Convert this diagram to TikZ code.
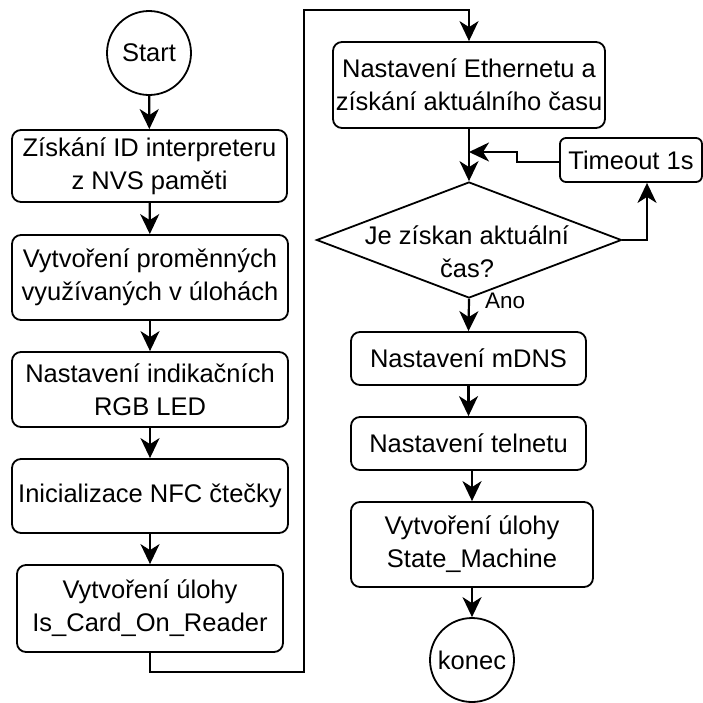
\documentclass[tikz,border=0pt]{standalone}
\usepackage{fontspec}
\setmainfont{Liberation Sans}
\usetikzlibrary{shapes.geometric,arrows.meta}
\begin{document}
\begin{tikzpicture}[x=1pt,y=-1pt,
  every node/.style={font=\fontsize{25.5}{33}\selectfont, align=center, inner sep=0pt},
  stepbox/.style={draw, line width=1.8pt, rounded corners=9pt, rectangle},
  endpoint/.style={draw, line width=1.8pt, circle, minimum size=84pt},
  decision/.style={draw, line width=1.8pt, diamond, minimum width=305pt, minimum height=116pt},
  flow/.style={line width=2.2pt, -{Stealth[length=20pt,width=19pt,inset=6pt]}},
]
\useasboundingbox (0,0) rectangle (703,702);

% left column
\node[endpoint] (start) at (149,53) {Start};
\node[stepbox, minimum width=275pt, minimum height=72pt] (b1) at (149.5,166) {Získání ID interpreteru\\z NVS paměti};
\node[stepbox, minimum width=276pt, minimum height=85pt] (b2) at (150,277.5) {Vytvoření proměnných\\využívaných v úlohách};
\node[stepbox, minimum width=276pt, minimum height=75pt] (b3) at (150,389.5) {Nastavení indikačních\\RGB LED};
\node[stepbox, minimum width=276pt, minimum height=74pt] (b4) at (150,496) {Inicializace NFC čtečky};
\node[stepbox, minimum width=266pt, minimum height=87pt] (b5) at (150,608.5) {Vytvoření úlohy\\Is\_Card\_On\_Reader};

% right column
\node[stepbox, minimum width=272pt, minimum height=86pt] (eth) at (469,85) {Nastavení Ethernetu a\\získání aktuálního času};
\node[decision] (dec) at (469,240) {};
\node (dectext) at (467,252) {Je získan aktuální\\čas?};
\node[stepbox, rounded corners=6pt, minimum width=142pt, minimum height=44pt] (tmo) at (631,160) {Timeout 1s};
\node[stepbox, minimum width=235pt, minimum height=53pt] (mdns) at (468.5,358.5) {Nastavení mDNS};
\node[stepbox, minimum width=235pt, minimum height=53pt] (tel) at (468.5,443.5) {Nastavení telnetu};
\node[stepbox, minimum width=242pt, minimum height=85pt] (sm) at (472,544.5) {Vytvoření úlohy\\State\_Machine};
\node[endpoint] (konec) at (472,660) {konec};

% connectors, left column
\draw[flow] (start) -- (b1);
\draw[flow] (b1) -- (b2);
\draw[flow] (b2) -- (b3);
\draw[flow] (b3) -- (b4);
\draw[flow] (b4) -- (b5);

% jump to the second column
\coordinate (lb) at (150,672);
\coordinate (lr) at (304,672);
\coordinate (lt) at (304,10);
\coordinate (le) at (469,10);
\draw[flow] (b5.south) -- (lb) -- (lr) -- (lt) -- (le) -- (eth.north);

% connectors, right column
\coordinate (merge) at (469,152);
\coordinate (tk1) at (517,162);
\coordinate (tk2) at (517,152);
\draw[flow] (eth.south) -- (dec.north);
\draw[flow] (tmo.west |- tk1) -- (tk1) -- (tk2) -- (merge);
\coordinate (rt) at (647,240);
\draw[flow] (dec.east) -- (rt) -- (rt |- tmo.south);
\draw[flow] (dec.south) -- (mdns.north);
\node[font=\fontsize{22.5}{27}\selectfont, anchor=west] (ano) at (485,301) {Ano};
\draw[flow] (mdns) -- (tel);
\draw[flow] (tel.south -| sm.north) -- (sm.north);
\draw[flow] (sm) -- (konec);
\end{tikzpicture}
\end{document}
